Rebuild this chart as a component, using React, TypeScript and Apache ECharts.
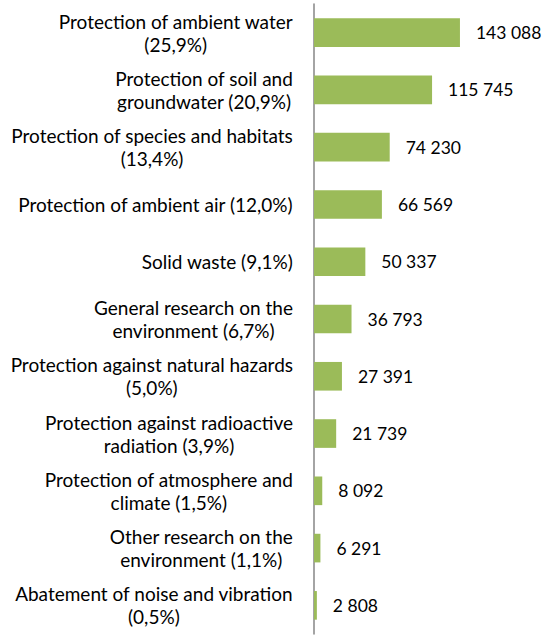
import React, { useEffect, useRef } from "react";
import * as echarts from "echarts";

const categories = [
  "Protection of ambient water\n(25,9%)",
  "Protection of soil and\ngroundwater (20,9%)",
  "Protection of species and habitats\n(13,4%)",
  "Protection of ambient air (12,0%)",
  "Solid waste (9,1%)",
  "General research on the\nenvironment (6,7%)",
  "Protection against natural hazards\n(5,0%)",
  "Protection against radioactive\nradiation (3,9%)",
  "Protection of atmosphere and\nclimate (1,5%)",
  "Other research on the\nenvironment (1,1%)",
  "Abatement of noise and vibration\n(0,5%)",
];
const values = [143088, 115745, 74230, 66569, 50337, 36793, 27391, 21739, 8092, 6291, 2808];

const fmt = (v: number) => {
  const s = String(Math.round(v));
  return s.replace(/\B(?=(\d{3})+(?!\d))/g, " ");
};

const LABEL_SIZE = 19;
const LABEL_FAMILY = "Lato";

function blockWidth(text: string): number {
  const c = document.createElement("canvas");
  const ctx = c.getContext("2d")!;
  ctx.font = LABEL_SIZE + "px " + LABEL_FAMILY;
  return Math.max(...text.split("\n").map((l) => ctx.measureText(l).width));
}

export default function App() {
  const ref = useRef<HTMLDivElement>(null);
  useEffect(() => {
    if (!ref.current) return;
    const chart = echarts.init(ref.current, undefined, { renderer: "svg" });
    const axisX = 314;
    const labelRight = 293;
    chart.setOption({
      animation: false,
      textStyle: { fontFamily: LABEL_FAMILY },
      grid: {
        left: axisX,
        top: 4,
        width: 204,
        height: 630,
        containLabel: false,
        outerBoundsMode: "none",
      },
      xAxis: { type: "value", min: 0, max: 200000, show: false },
      yAxis: {
        type: "category",
        inverse: true,
        data: categories,
        axisLine: { lineStyle: { color: "#868686", width: 1.5 } },
        axisTick: { length: 5, lineStyle: { color: "#868686", width: 1.5 } },
        axisLabel: { show: false },
      },
      series: [
        {
          type: "bar",
          data: values,
          barCategoryGap: "50%",
          itemStyle: { color: "#9BBB59" },
          label: {
            show: true,
            position: "right",
            distance: 16,
            color: "#000",
            fontSize: 17.5,
            fontFamily: LABEL_FAMILY,
            formatter: (p: any) => fmt(p.value),
          },
        },
      ],
    });
    const texts = categories.map((c, i) => {
      const w = blockWidth(c);
      const y = chart.convertToPixel({ yAxisIndex: 0 }, i) as number;
      return {
        type: "text",
        x: labelRight - w / 2,
        y,
        style: {
          text: c,
          fill: "#000",
          fontSize: LABEL_SIZE,
          fontFamily: LABEL_FAMILY,
          align: "center",
          verticalAlign: "middle",
          lineHeight: 23,
        },
      };
    });
    chart.setOption({ graphic: texts });
    return () => chart.dispose();
  }, []);
  return <div ref={ref} style={{ width: 543, height: 635, position: "absolute", left: 0, top: 0 }} />;
}
